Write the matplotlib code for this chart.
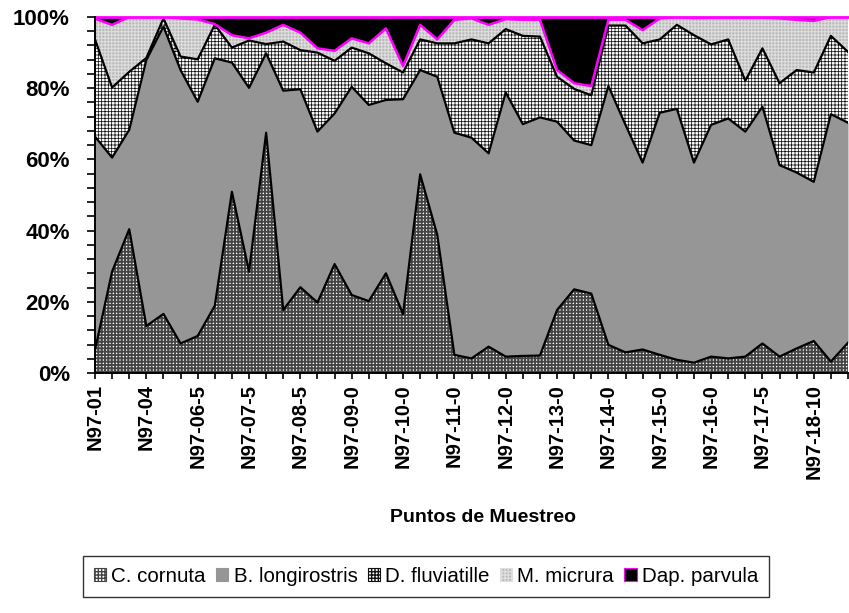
import numpy as np
import matplotlib
matplotlib.use("Agg")
import matplotlib.pyplot as plt
from matplotlib.patches import Patch
from matplotlib.ticker import MultipleLocator, FuncFormatter

plt.rcParams['font.family'] = ['Liberation Sans', 'DejaVu Sans']

# Percent composition per sampling point
c_cornuta = [6.5, 28.5, 40.4, 13.2, 16.6, 8.3, 10.4, 18.9, 50.9, 28.5, 67.5, 17.7,
             24.1, 19.8, 30.6, 21.9, 20.2, 28.0, 16.6, 55.8, 38.8, 5.1, 4.1, 7.4,
             4.6, 4.8, 4.9, 17.7, 23.5, 22.3, 7.9, 5.8, 6.6, 5.1, 3.7, 2.9, 4.6,
             4.1, 4.6, 8.3, 4.6, 6.9, 9.0, 3.2, 8.5]
b_longirostris = [59.9, 32.0, 27.9, 74.7, 80.7, 76.8, 65.8, 69.5, 36.3, 51.6, 22.3,
                  61.6, 55.6, 48.0, 42.3, 58.5, 55.1, 48.7, 60.3, 29.3, 44.4, 62.4,
                  62.0, 54.3, 74.2, 65.1, 66.9, 52.9, 41.8, 41.7, 72.7, 63.9, 52.5,
                  68.0, 70.5, 56.2, 65.1, 67.4, 63.2, 66.5, 53.8, 49.4, 44.7, 69.5,
                  61.8]
d_fluviatille = [27.3, 19.7, 16.3, 0.6, 2.3, 3.8, 11.9, 9.4, 4.2, 13.3, 2.6, 13.8,
                 11.0, 22.2, 14.8, 11.0, 14.5, 10.3, 7.5, 8.6, 9.4, 25.1, 27.6, 30.9,
                 17.8, 24.8, 22.7, 12.6, 14.5, 14.0, 17.0, 27.9, 33.5, 20.6, 23.6,
                 35.8, 22.6, 22.2, 14.3, 16.4, 23.0, 28.8, 30.7, 22.0, 19.9]
m_micrura = [5.8, 17.6, 15.4, 11.5, 0.4, 10.7, 11.2, 0.2, 3.5, 0.6, 3.2, 4.7, 4.9,
             1.2, 2.8, 2.6, 2.8, 9.8, 1.8, 4.1, 1.1, 6.6, 5.9, 5.2, 2.8, 4.5, 4.7,
             1.9, 1.6, 2.6, 1.6, 1.6, 3.7, 5.9, 2.2, 4.8, 7.5, 6.1, 17.7, 8.6, 18.2,
             14.1, 14.5, 5.3, 9.8]
dap_parvula = [0.5, 2.2, 0.0, 0.0, 0.0, 0.4, 0.7, 2.0, 5.1, 6.0, 4.4, 2.2, 4.4, 8.8,
               9.5, 6.0, 7.4, 3.2, 13.8, 2.2, 6.3, 0.8, 0.4, 2.2, 0.6, 0.8, 0.8, 14.9,
               18.6, 19.4, 0.8, 0.8, 3.7, 0.4, 0.0, 0.3, 0.2, 0.2, 0.2, 0.2, 0.4, 0.8,
               1.1, 0.0, 0.0]

species = ["C. cornuta", "B. longirostris", "D. fluviatille", "M. micrura", "Dap. parvula"]
tick_labels = ["N97-01", "N97-04", "N97-06-5", "N97-07-5", "N97-08-5", "N97-09-0",
               "N97-10-0", "N97-11-0", "N97-12-0", "N97-13-0", "N97-14-0", "N97-15-0",
               "N97-16-0", "N97-17-5", "N97-18-10"]

data = np.array([c_cornuta, b_longirostris, d_fluviatille, m_micrura, dap_parvula])
data = data / data.sum(axis=0) * 100
x = np.arange(data.shape[1])

# face colour, hatch colour, hatch pattern, hatch width
styles = [
    ("white", "#444444", "+++++", 1.35),
    ("#969696", "#969696", None, 1.0),
    ("white", "#101010", "+++++", 0.55),
    ("#b9b9b9", "#dedede", "+++++", 0.8),
    ("black", "black", None, 1.0),
]

fig = plt.figure(figsize=(8.49, 6.13), dpi=100)
ax = fig.add_axes([95 / 849, 1 - 373 / 613, (848 - 95) / 849, (373 - 17) / 613])

polys = ax.stackplot(x, *data, colors=[s[0] for s in styles])
for poly, (fc, hc, hatch, hlw) in zip(polys, styles):
    poly.set_edgecolor(hc)
    poly.set_linewidth(0)
    if hatch:
        poly.set_hatch(hatch)
        if hasattr(poly, "set_hatch_linewidth"):
            poly.set_hatch_linewidth(hlw)

# boundary lines between the layers
cum = np.cumsum(data, axis=0)
for i in range(3):
    ax.plot(x, cum[i], color="black", lw=1.6)
ax.plot(x, cum[3], color="#ff00ff", lw=1.8)
ax.plot(x, cum[4], color="#ff00ff", lw=2.0, clip_on=False)

ax.set_xlim(0, 43.5)
ax.set_ylim(0, 100)

ax.set_xticks(x, minor=True)
ax.set_xticks(np.arange(0, 45, 3))
ax.set_xticklabels(tick_labels, rotation=90, fontsize=14.5, fontweight="bold",
                   ha="center", va="top")
ax.tick_params(axis="x", which="both", direction="out", length=4, width=1.2, pad=4)

ax.yaxis.set_major_locator(MultipleLocator(20))
ax.yaxis.set_minor_locator(MultipleLocator(4))
ax.yaxis.set_major_formatter(FuncFormatter(lambda v, p: f"{v:.0f}%"))
for t in ax.get_yticklabels():
    t.set_fontsize(16)
    t.set_fontweight("bold")
ax.tick_params(axis="y", which="both", direction="out", length=6, width=1.2, pad=12)

for side in ["top", "right"]:
    ax.spines[side].set_visible(False)
for side in ["left", "bottom"]:
    ax.spines[side].set_linewidth(1.4)

fig.text(483 / 849, 1 - 518 / 613, "Puntos de Muestreo", ha="center", va="center",
         fontsize=14, fontweight="bold")

handles = []
for (fc, hc, hatch, hlw), name in zip(styles, species):
    ec = "#ff00ff" if name == "Dap. parvula" else hc
    handles.append(Patch(facecolor=fc, edgecolor=ec, hatch=hatch, linewidth=0.8,
                         label=name))
leg = fig.legend(handles=handles, loc="center", ncol=5,
                 bbox_to_anchor=(426 / 849, 1 - 576.5 / 613),
                 fontsize=14.8, frameon=True, fancybox=False, edgecolor="black",
                 handlelength=0.6, handleheight=0.6, handletextpad=0.25,
                 columnspacing=0.5, borderpad=0.55, borderaxespad=0)
leg.get_frame().set_linewidth(1.0)

fig.savefig("out.png", dpi=100)
